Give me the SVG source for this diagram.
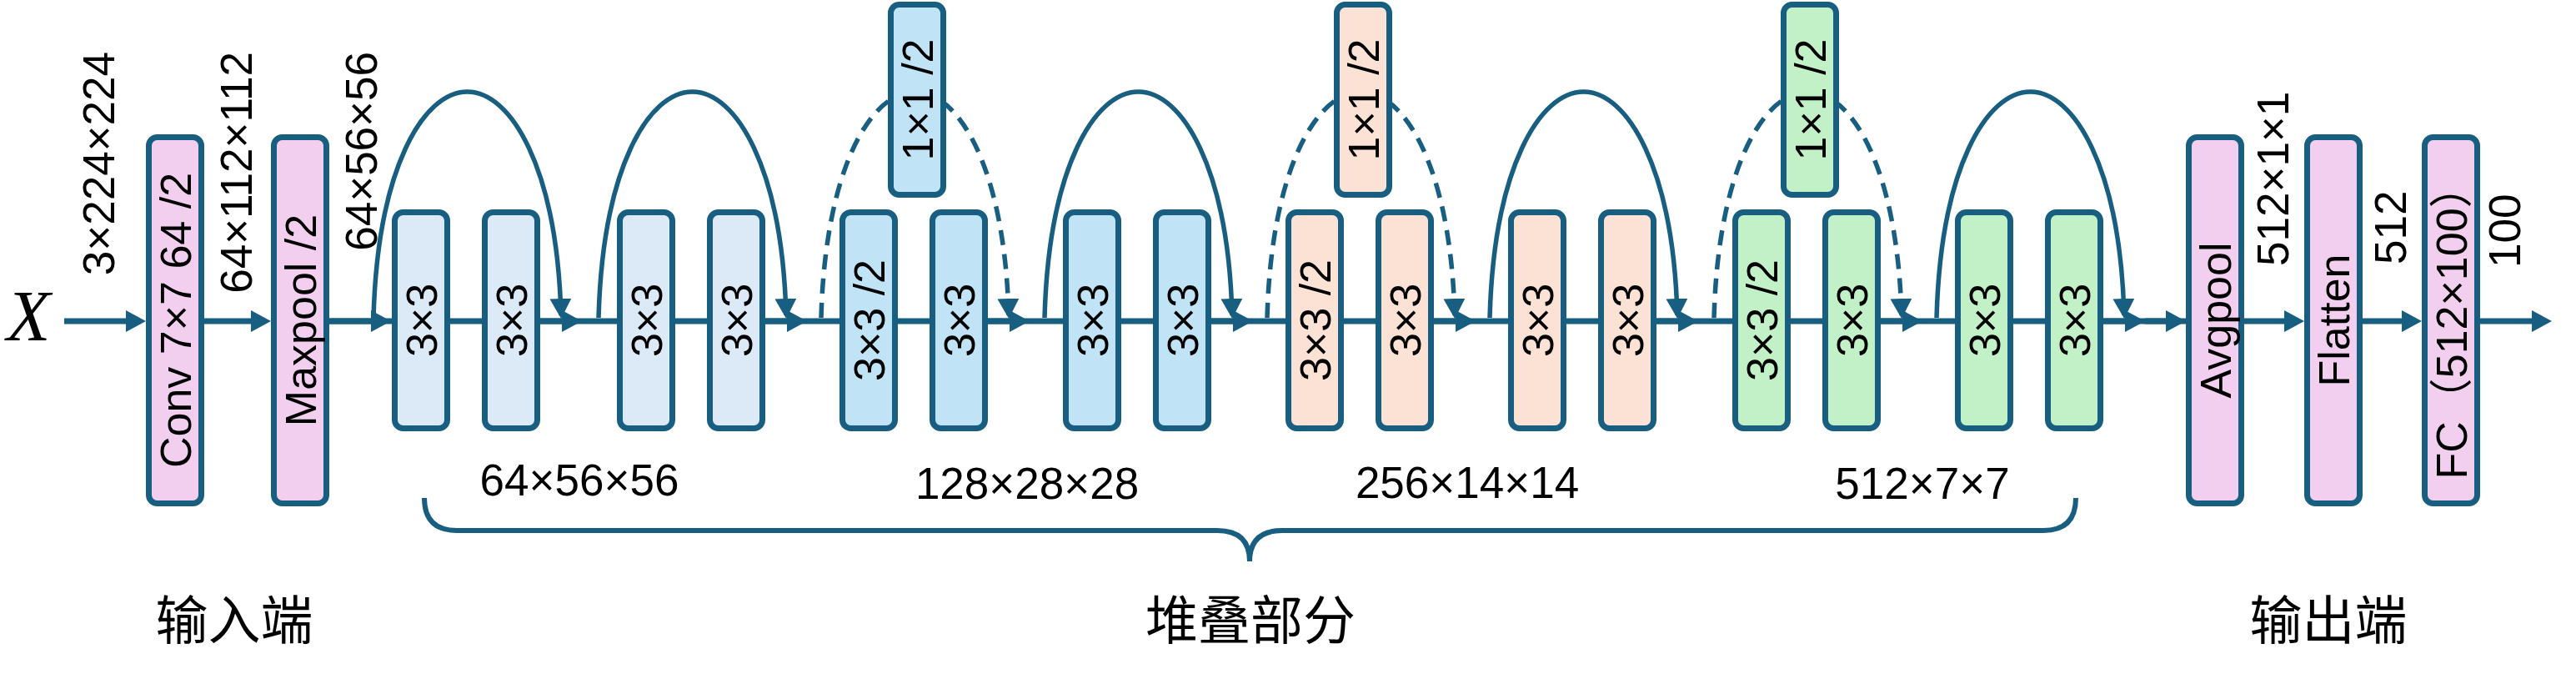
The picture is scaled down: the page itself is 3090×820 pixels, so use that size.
<svg xmlns="http://www.w3.org/2000/svg" width="3090" height="820" viewBox="0 0 3090 820">
<style>
.box{stroke:#175E80;stroke-width:7}
.pink{fill:#F2CFEE}.lb{fill:#DCEAF7}.cb{fill:#C0E4F5}.or{fill:#FBE2D5}.gr{fill:#C2F1C8}
.bt{font-family:"Liberation Sans",Arial,"Noto Sans CJK SC",sans-serif;font-size:52px;fill:#000;text-anchor:middle}
.dim{font-family:"Liberation Sans",Arial,sans-serif;font-size:53px;fill:#000}
.zh{font-family:"Noto Sans CJK SC",sans-serif;font-size:63px;fill:#000;text-anchor:middle}
.ln{fill:none;stroke:#175E80;stroke-width:7}
.arc{fill:none;stroke:#175E80;stroke-width:5.5}
.dash{stroke-dasharray:18 11}
</style>
<defs>
<marker id="ah" markerUnits="userSpaceOnUse" markerWidth="24" markerHeight="26" viewBox="0 0 24 26" refX="12" refY="13" orient="auto"><path d="M0,0 L24,13 L0,26 z" fill="#175E80"/></marker>
<marker id="ah2" markerUnits="userSpaceOnUse" markerWidth="24" markerHeight="26" viewBox="0 0 24 26" refX="20" refY="13" orient="auto"><path d="M0,0 L24,13 L0,26 z" fill="#175E80"/></marker>
</defs>
<g id="connectors">
<path class="ln" d="M77,385 L163,385" marker-end="url(#ah)"/>
<path class="ln" d="M245,385 L313,385" marker-end="url(#ah)"/>
<path class="ln" d="M395,385 L2622,385"/>
<path class="ln" d="M395,385 L457,385" marker-end="url(#ah)"/>
<path class="ln" d="M648,385 L686,385" marker-end="url(#ah)"/>
<path class="ln" d="M918,385 L956,385" marker-end="url(#ah)"/>
<path class="ln" d="M1185,385 L1223,385" marker-end="url(#ah)"/>
<path class="ln" d="M1453,385 L1491,385" marker-end="url(#ah)"/>
<path class="ln" d="M1720,385 L1758,385" marker-end="url(#ah)"/>
<path class="ln" d="M1987,385 L2025,385" marker-end="url(#ah)"/>
<path class="ln" d="M2256,385 L2294,385" marker-end="url(#ah)"/>
<path class="ln" d="M2523,385 L2561,385" marker-end="url(#ah)"/>
<path class="ln" d="M2573,385 L2610,385" marker-end="url(#ah)"/>
<path class="ln" d="M2692,385 L2752,385" marker-end="url(#ah)"/>
<path class="ln" d="M2834,385 L2893,385" marker-end="url(#ah)"/>
<path class="ln" d="M2975,385 L3049,385" marker-end="url(#ah)"/>
<path class="arc" d="M448,381 C453,201 508,110 560.5,110 C613,110 668,201 673,378" marker-end="url(#ah2)"/>
<path class="arc" d="M718,381 C723,201 778,110 830.5,110 C883,110 938,201 943,378" marker-end="url(#ah2)"/>
<path class="arc dash" d="M985,381 C990,201 1045,110 1097.5,110 C1150,110 1205,201 1210,378" marker-end="url(#ah2)"/>
<path class="arc" d="M1253,381 C1258,201 1313,110 1365.5,110 C1418,110 1473,201 1478,378" marker-end="url(#ah2)"/>
<path class="arc dash" d="M1520,381 C1525,201 1580,110 1632.5,110 C1685,110 1740,201 1745,378" marker-end="url(#ah2)"/>
<path class="arc" d="M1787,381 C1792,201 1847,110 1899.5,110 C1952,110 2007,201 2012,378" marker-end="url(#ah2)"/>
<path class="arc dash" d="M2056,381 C2061,201 2116,110 2168.5,110 C2221,110 2276,201 2281,378" marker-end="url(#ah2)"/>
<path class="arc" d="M2323,381 C2328,201 2383,110 2435.5,110 C2488,110 2543,201 2548,378" marker-end="url(#ah2)"/>
</g>
<g id="brace"><path class="arc" style="stroke-width:6" d="M509,597 Q509,636 548,636 L1460,636 Q1499,636 1499,673 Q1499,636 1538,636 L2451,636 Q2490,636 2490,597"/></g>
<g id="input"><text x="8" y="408" style="font-family:'Liberation Serif','Times New Roman',serif;font-style:italic;font-size:86px">X</text></g>
<g id="conv"><rect class="box pink" x="178.5" y="164.5" width="63" height="439" rx="10"/><text class="bt" transform="translate(210,384) rotate(-90)" y="18.5">Conv 7×7 64 /2</text></g>
<g id="maxpool"><rect class="box pink" x="328.5" y="164.5" width="63" height="439" rx="10"/><text class="bt" transform="translate(360,384) rotate(-90)" y="18.5">Maxpool /2</text></g>
<g id="b1a"><rect class="box lb" x="473.5" y="254.5" width="63" height="259" rx="10"/><text class="bt" transform="translate(505,384) rotate(-90)" y="18.5">3×3</text></g>
<g id="b1b"><rect class="box lb" x="581.5" y="254.5" width="63" height="259" rx="10"/><text class="bt" transform="translate(613,384) rotate(-90)" y="18.5">3×3</text></g>
<g id="b2a"><rect class="box lb" x="743.5" y="254.5" width="63" height="259" rx="10"/><text class="bt" transform="translate(775,384) rotate(-90)" y="18.5">3×3</text></g>
<g id="b2b"><rect class="box lb" x="851.5" y="254.5" width="63" height="259" rx="10"/><text class="bt" transform="translate(883,384) rotate(-90)" y="18.5">3×3</text></g>
<g id="b3s"><rect class="box cb" x="1068.5" y="5.5" width="63" height="228" rx="10"/><text class="bt" transform="translate(1100,119.5) rotate(-90)" y="18.5">1×1 /2</text></g>
<g id="b3a"><rect class="box cb" x="1010.5" y="254.5" width="63" height="259" rx="10"/><text class="bt" transform="translate(1042,384) rotate(-90)" y="18.5">3×3 /2</text></g>
<g id="b3b"><rect class="box cb" x="1118.5" y="254.5" width="63" height="259" rx="10"/><text class="bt" transform="translate(1150,384) rotate(-90)" y="18.5">3×3</text></g>
<g id="b4a"><rect class="box cb" x="1278.5" y="254.5" width="63" height="259" rx="10"/><text class="bt" transform="translate(1310,384) rotate(-90)" y="18.5">3×3</text></g>
<g id="b4b"><rect class="box cb" x="1386.5" y="254.5" width="63" height="259" rx="10"/><text class="bt" transform="translate(1418,384) rotate(-90)" y="18.5">3×3</text></g>
<g id="b5s"><rect class="box or" x="1603.5" y="5.5" width="63" height="228" rx="10"/><text class="bt" transform="translate(1635,119.5) rotate(-90)" y="18.5">1×1 /2</text></g>
<g id="b5a"><rect class="box or" x="1545.5" y="254.5" width="63" height="259" rx="10"/><text class="bt" transform="translate(1577,384) rotate(-90)" y="18.5">3×3 /2</text></g>
<g id="b5b"><rect class="box or" x="1653.5" y="254.5" width="63" height="259" rx="10"/><text class="bt" transform="translate(1685,384) rotate(-90)" y="18.5">3×3</text></g>
<g id="b6a"><rect class="box or" x="1812.5" y="254.5" width="63" height="259" rx="10"/><text class="bt" transform="translate(1844,384) rotate(-90)" y="18.5">3×3</text></g>
<g id="b6b"><rect class="box or" x="1920.5" y="254.5" width="63" height="259" rx="10"/><text class="bt" transform="translate(1952,384) rotate(-90)" y="18.5">3×3</text></g>
<g id="b7s"><rect class="box gr" x="2139.5" y="5.5" width="63" height="228" rx="10"/><text class="bt" transform="translate(2171,119.5) rotate(-90)" y="18.5">1×1 /2</text></g>
<g id="b7a"><rect class="box gr" x="2081.5" y="254.5" width="63" height="259" rx="10"/><text class="bt" transform="translate(2113,384) rotate(-90)" y="18.5">3×3 /2</text></g>
<g id="b7b"><rect class="box gr" x="2189.5" y="254.5" width="63" height="259" rx="10"/><text class="bt" transform="translate(2221,384) rotate(-90)" y="18.5">3×3</text></g>
<g id="b8a"><rect class="box gr" x="2348.5" y="254.5" width="63" height="259" rx="10"/><text class="bt" transform="translate(2380,384) rotate(-90)" y="18.5">3×3</text></g>
<g id="b8b"><rect class="box gr" x="2456.5" y="254.5" width="63" height="259" rx="10"/><text class="bt" transform="translate(2488,384) rotate(-90)" y="18.5">3×3</text></g>
<g id="avgpool"><rect class="box pink" x="2625.5" y="164.5" width="63" height="439" rx="10"/><text class="bt" transform="translate(2657,384) rotate(-90)" y="18.5">Avgpool</text></g>
<g id="flatten"><rect class="box pink" x="2767.5" y="164.5" width="63" height="439" rx="10"/><text class="bt" transform="translate(2799,384) rotate(-90)" y="18.5">Flatten</text></g>
<g id="fc"><rect class="box pink" x="2908.5" y="164.5" width="63" height="439" rx="10"/><text class="bt" transform="translate(2940,386) rotate(-90)" y="18.5">FC（512×100）</text></g>
<g id="labels">
<text class="dim" text-anchor="end" transform="translate(137,62) rotate(-90)">3×224×224</text>
<text class="dim" text-anchor="end" transform="translate(302,62) rotate(-90)">64×112×112</text>
<text class="dim" text-anchor="end" transform="translate(452,62) rotate(-90)">64×56×56</text>
<text class="dim" text-anchor="start" transform="translate(2745,319) rotate(-90)">512×1×1</text>
<text class="dim" text-anchor="start" transform="translate(2886,317) rotate(-90)">512</text>
<text class="dim" text-anchor="start" transform="translate(3023,321) rotate(-90)">100</text>
<text class="dim" text-anchor="middle" x="695" y="594">64×56×56</text>
<text class="dim" text-anchor="middle" x="1232" y="598">128×28×28</text>
<text class="dim" text-anchor="middle" x="1760" y="597">256×14×14</text>
<text class="dim" text-anchor="middle" x="2306" y="598">512×7×7</text>
<text class="zh" x="281" y="766">输入端</text>
<text class="zh" x="1500" y="766">堆叠部分</text>
<text class="zh" x="2793" y="766">输出端</text>
</g>
</svg>
